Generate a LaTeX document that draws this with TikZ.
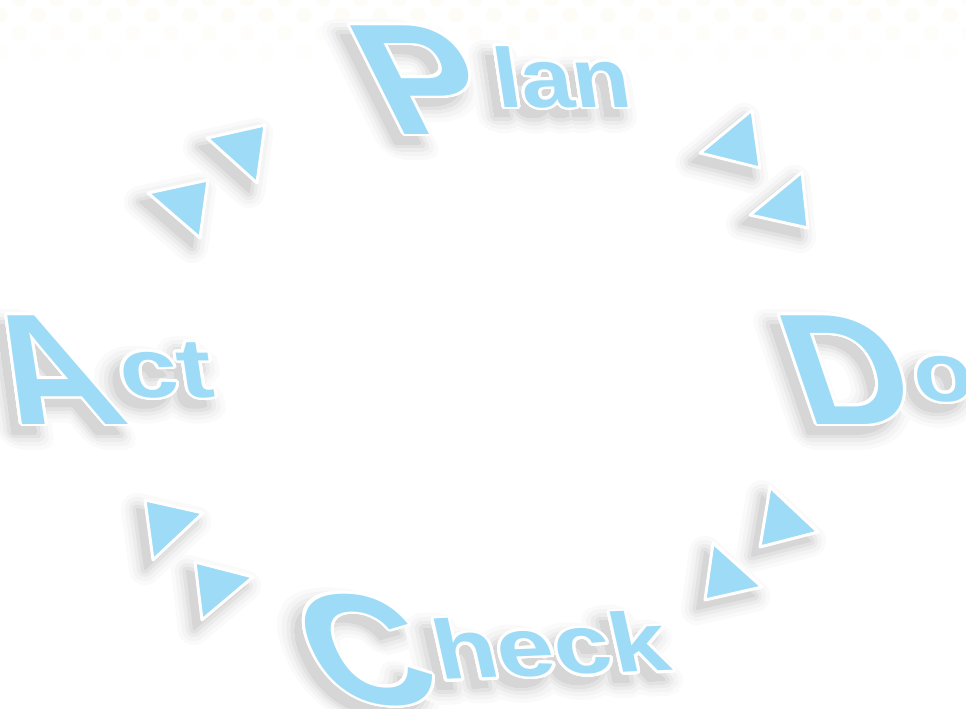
\documentclass[tikz,border=0pt]{standalone}
\usepackage{fontspec}
\setmainfont{Liberation Sans}
\usepackage[copies]{contour}
\contournumber{32}
\definecolor{pdcablue}{RGB}{158,219,246}
\definecolor{shdA}{RGB}{250,250,250}
\definecolor{shdB}{RGB}{244,244,244}
\definecolor{shdC}{RGB}{236,236,236}
\definecolor{shdD}{RGB}{226,226,226}
\definecolor{shdE}{RGB}{214,214,214}
\definecolor{dotcol}{RGB}{250,248,230}
\pgfdeclarelayer{dots}
\pgfdeclarelayer{shadow}
\pgfsetlayers{dots,shadow,main}

% soft drop shadow: stacked contours from wide/light to narrow/dark
\newcommand{\shadowlayers}[1]{%
  \contourlength{16pt}\rlap{\color{shdA}\contour{shdA}{#1}}%
  \contourlength{12pt}\rlap{\color{shdB}\contour{shdB}{#1}}%
  \contourlength{8pt}\rlap{\color{shdC}\contour{shdC}{#1}}%
  \contourlength{4.5pt}\rlap{\color{shdD}\contour{shdD}{#1}}%
  \contourlength{1pt}{\color{shdE}\contour{shdE}{#1}}}
% blue letters with a white rim
\newcommand{\rimtext}[1]{\contourlength{2.6pt}{\color{pdcablue}\contour{white}{#1}}}
% one piece of a word: name, style, x, y, text
\newcommand{\pdcapiece}[5]{%
  \node[#2] (#1) at (#3,#4) {\rimtext{#5}};
  \begin{pgfonlayer}{shadow}
    \node[#2] (#1-sh) at ([shift={(-9,-10)}]#1.base west) {\shadowlayers{#5}};
  \end{pgfonlayer}}

\tikzset{
  piece/.style={inner sep=0pt, anchor=base west, transform shape},
  capital/.style={piece, font=\fontsize{158}{158}\selectfont\bfseries},
  small/.style={piece, font=\fontsize{84}{84}\selectfont\bfseries},
  arrowtri/.style={fill=pdcablue, draw=white, line width=3pt, line join=round},
}

\begin{document}
\begin{tikzpicture}[x=1pt, y=1pt]
\useasboundingbox (0,-709) rectangle (966,0);

% ------------------------------------------------------------------
% faint dotted band along the top edge
% ------------------------------------------------------------------
\begin{pgfonlayer}{dots}
  \fill[white] (0,-709) rectangle (966,0);
  \foreach \yy/\off/\tint in {1/19/35, -15/0/35, -33/19/25, -52/0/12}{
    \foreach \i in {0,...,26}{ \fill[dotcol!\tint] (\off+\i*38,\yy) circle (7.5pt); }
  }
\end{pgfonlayer}

% ------------------------------------------------------------------
% the four words (big initial + rest)
% ------------------------------------------------------------------
\pdcapiece{P}{capital, xslant=-0.5, xscale=1.08}{393}{-134}{P}
\pdcapiece{lan}{small, xslant=-0.15, xscale=1.12}{498}{-107}{lan}
\pdcapiece{A}{capital, xslant=-0.5}{18}{-424}{A}
\pdcapiece{ct}{small, xslant=-0.15, xscale=1.25}{123}{-397}{ct}
\pdcapiece{D}{capital, xslant=-0.34, xscale=1.04}{806}{-424}{D}
\pdcapiece{o}{small, xslant=-0.15, xscale=1.15}{917}{-401}{o}
\pdcapiece{C}{capital, xslant=-0.45, xscale=1.05}{330}{-704}{C}
\pdcapiece{heck}{small, rotate=2.4, xslant=-0.18, xscale=1.22}{440}{-680}{heck}

% ------------------------------------------------------------------
% pairs of triangles pointing round the cycle
% ------------------------------------------------------------------
\foreach \xa/\ya/\xb/\yb/\xc/\yc in {
    207/-138/265/-125/257/-183, 148/-193/208/-180/200/-238,   % Act -> Plan
    752/-110/760/-168/700/-153, 802/-172/808/-228/750/-215,   % Plan -> Do
    770/-487/818/-532/760/-547, 713/-543/762/-587/705/-600,   % Do -> Check
    145/-500/203/-513/153/-560, 195/-562/253/-577/202/-620}{  % Check -> Act
  \begin{pgfonlayer}{shadow}
    \begin{scope}[shift={(-8,-9)}, line join=round]
      \filldraw[shdA, line width=32pt] (\xa,\ya) -- (\xb,\yb) -- (\xc,\yc) -- cycle;
      \filldraw[shdB, line width=24pt] (\xa,\ya) -- (\xb,\yb) -- (\xc,\yc) -- cycle;
      \filldraw[shdC, line width=16pt] (\xa,\ya) -- (\xb,\yb) -- (\xc,\yc) -- cycle;
      \filldraw[shdD, line width=9pt] (\xa,\ya) -- (\xb,\yb) -- (\xc,\yc) -- cycle;
      \filldraw[shdE, line width=2pt] (\xa,\ya) -- (\xb,\yb) -- (\xc,\yc) -- cycle;
    \end{scope}
  \end{pgfonlayer}
  \draw[arrowtri] (\xa,\ya) -- (\xb,\yb) -- (\xc,\yc) -- cycle;
}

\end{tikzpicture}
\end{document}
